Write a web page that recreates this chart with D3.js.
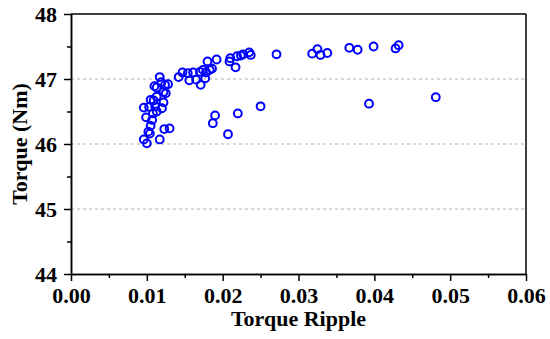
<!DOCTYPE html>
<html>
<head>
<meta charset="utf-8">
<script src="https://d3js.org/d3.v7.min.js"></script>
<style>
  body { margin: 0; background: #fff; }
  text { font-family: "Liberation Serif", "Times New Roman", serif; font-weight: bold; }
</style>
</head>
<body>
<div id="chart"></div>
<script>
// data
var ripple = [
  0.0117, 0.0110, 0.0113, 0.0124, 0.0128, 0.0122, 0.0125, 0.0113, 0.0105, 0.0109,
  0.0122, 0.0103, 0.0111, 0.0120, 0.0096, 0.0108, 0.0099, 0.0105, 0.0102, 0.0104,
  0.0096, 0.0100, 0.0117, 0.0123, 0.0130, 0.0107, 0.0113, 0.0119,
  0.0142, 0.0147, 0.0156, 0.0154, 0.0161, 0.0165, 0.0170, 0.0171, 0.0177, 0.0178,
  0.0183, 0.0174, 0.0186, 0.0180, 0.0192,
  0.0210, 0.0209, 0.0217, 0.0219, 0.0227, 0.0224, 0.0235, 0.0237, 0.0271,
  0.0318, 0.0325, 0.0329, 0.0338, 0.0367, 0.0378, 0.0399, 0.0428, 0.0432,
  0.0190, 0.0187, 0.0220, 0.0250, 0.0207, 0.0393, 0.0481
];
var torque = [
  47.03, 46.89, 46.87, 46.91, 46.92, 46.80, 46.78, 46.73, 46.68, 46.67,
  46.64, 46.57, 46.58, 46.55, 46.56, 46.47, 46.41, 46.28, 46.19, 46.16,
  46.07, 46.01, 46.07, 46.23, 46.24, 46.37, 46.50, 46.95,
  47.03, 47.10, 46.98, 47.09, 47.10, 46.99, 47.11, 46.91, 47.01, 47.10,
  47.14, 47.14, 47.16, 47.27, 47.30,
  47.32, 47.27, 47.18, 47.35, 47.38, 47.36, 47.41, 47.37, 47.38,
  47.39, 47.46, 47.37, 47.40, 47.48, 47.45, 47.50, 47.47, 47.52,
  46.44, 46.32, 46.47, 46.58, 46.15, 46.62, 46.72
];
var xTicks = [0, 0.01, 0.02, 0.03, 0.04, 0.05, 0.06];
var yTicks = [44, 45, 46, 47, 48];
var gridLevels = [45, 46, 47];

var width = 550, height = 339;
var margin = { left: 71, right: 24, top: 14, bottom: 65 };

var svg = d3.select("#chart").append("svg")
    .attr("width", width)
    .attr("height", height);

var x = d3.scaleLinear().domain([0, 0.06]).range([margin.left, width - margin.right]);
var y = d3.scaleLinear().domain([44, 48]).range([height - margin.bottom, margin.top]);

// dashed grid
svg.append("g").selectAll("line")
    .data(gridLevels)
    .enter().append("line")
    .attr("x1", x(0)).attr("x2", x(0.06))
    .attr("y1", function(d) { return y(d); })
    .attr("y2", function(d) { return y(d); })
    .attr("stroke", "#b0b0b0")
    .attr("stroke-width", 1)
    .attr("stroke-dasharray", "3,3");

// minor ticks
var xMinor = d3.range(0.005, 0.06, 0.01);
var yMinor = d3.range(44.5, 48, 1);

svg.append("g")
    .attr("transform", "translate(0," + y(44) + ")")
    .call(d3.axisBottom(x).tickValues(xTicks).tickFormat(d3.format(".2f")).tickSize(7).tickSizeOuter(0).tickPadding(6));
svg.append("g")
    .attr("transform", "translate(0," + y(44) + ")")
    .call(d3.axisBottom(x).tickValues(xMinor).tickFormat("").tickSize(4).tickSizeOuter(0));

svg.append("g")
    .attr("transform", "translate(" + x(0) + ",0)")
    .call(d3.axisLeft(y).tickValues(yTicks).tickFormat(d3.format("d")).tickSize(7).tickSizeOuter(0).tickPadding(7));
svg.append("g")
    .attr("transform", "translate(" + x(0) + ",0)")
    .call(d3.axisLeft(y).tickValues(yMinor).tickFormat("").tickSize(4).tickSizeOuter(0));

svg.selectAll(".domain").attr("stroke", "#000").attr("stroke-width", 1.5);
svg.selectAll(".tick line").attr("stroke", "#000").attr("stroke-width", 1.5);
svg.selectAll(".tick text")
    .attr("fill", "#000")
    .style("font-family", "'Liberation Serif', serif")
    .style("font-weight", "bold")
    .style("font-size", "22px");

// top and right frame
svg.append("line")
    .attr("x1", x(0)).attr("x2", x(0.06))
    .attr("y1", y(48)).attr("y2", y(48))
    .attr("stroke", "#000").attr("stroke-width", 1.5);
svg.append("line")
    .attr("x1", x(0.06)).attr("x2", x(0.06))
    .attr("y1", y(48)).attr("y2", y(44))
    .attr("stroke", "#000").attr("stroke-width", 1.5);

// axis titles
svg.append("text")
    .attr("x", (x(0) + x(0.06)) / 2)
    .attr("y", 326)
    .attr("text-anchor", "middle")
    .style("font-size", "22px")
    .text("Torque Ripple");

svg.append("text")
    .attr("transform", "translate(27," + ((y(44) + y(48)) / 2) + ") rotate(-90)")
    .attr("text-anchor", "middle")
    .style("font-size", "22px")
    .text("Torque (Nm)");

// points
svg.append("g").selectAll("circle")
    .data(ripple)
    .enter().append("circle")
    .attr("cx", function(d) { return x(d); })
    .attr("cy", function(d, i) { return y(torque[i]); })
    .attr("r", 3.9)
    .attr("fill", "none")
    .attr("stroke", "#0000ff")
    .attr("stroke-width", 2);
</script>
</body>
</html>
